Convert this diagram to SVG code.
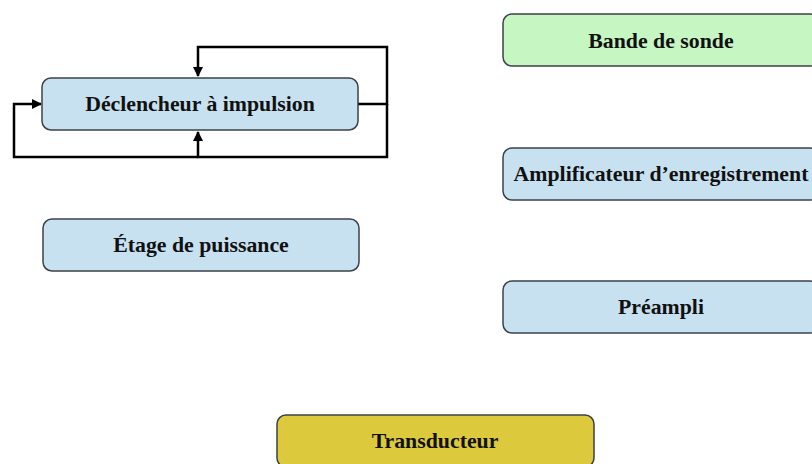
<svg xmlns="http://www.w3.org/2000/svg" width="812" height="464" viewBox="0 0 812 464">
<defs>
<style>
.box{stroke:#3c4147;stroke-width:1.5}
.blue{fill:#c8e1f1}
.green{fill:#c6f6c2}
.yellow{fill:#dcc93c}
.lbl{font-family:"Liberation Serif","Times New Roman",serif;font-weight:bold;font-size:21.8px;fill:#111;text-anchor:middle;dominant-baseline:central}
.wire{fill:none;stroke:#000;stroke-width:2.5}
</style>
<marker id="ah" viewBox="0 0 10 10" refX="9" refY="5" markerWidth="4" markerHeight="4" orient="auto">
<path d="M0,0 L10,5 L0,10 z" fill="#000"/>
</marker>
</defs>
<rect width="812" height="464" fill="#fff"/>
<g id="connectors">
<path class="wire" d="M358,104 H387 V47 H198 V76" marker-end="url(#ah)"/>
<path class="wire" d="M387,104 V157 H198 V132" marker-end="url(#ah)"/>
<path class="wire" d="M198,157 H14 V104 H41" marker-end="url(#ah)"/>
</g>
<g id="declencheur">
<rect class="box blue" x="42" y="78" width="316" height="52" rx="9"/>
<text class="lbl" x="200" y="104">Déclencheur à impulsion</text>
</g>
<g id="etage">
<rect class="box blue" x="43" y="219" width="316" height="52" rx="9"/>
<text class="lbl" x="201" y="245">Étage de puissance</text>
</g>
<g id="bande">
<rect class="box green" x="503" y="14" width="316" height="52" rx="9"/>
<text class="lbl" x="661" y="41">Bande de sonde</text>
</g>
<g id="amplificateur">
<rect class="box blue" x="503" y="148" width="316" height="52" rx="9"/>
<text class="lbl" x="661" y="174">Amplificateur d’enregistrement</text>
</g>
<g id="preampli">
<rect class="box blue" x="503" y="281" width="316" height="52" rx="9"/>
<text class="lbl" x="661" y="307">Préampli</text>
</g>
<g id="transducteur">
<rect class="box yellow" x="277" y="415" width="317" height="52" rx="9"/>
<text class="lbl" x="435" y="441">Transducteur</text>
</g>
</svg>
